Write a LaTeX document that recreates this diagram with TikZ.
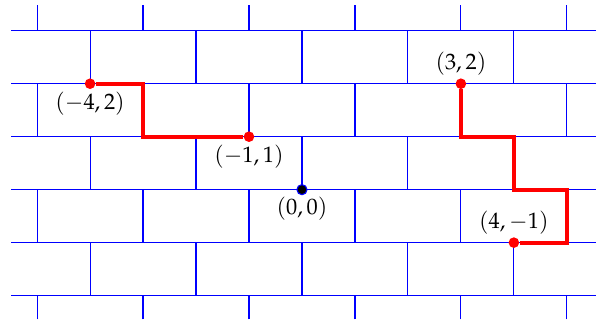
\documentclass[tikz,border=0pt]{standalone}
\usepackage{mathpazo}
\usetikzlibrary{positioning}

\begin{document}
\begin{tikzpicture}[
    wall/.style ={blue, line width=0.6pt},
    walk/.style ={red, line width=2.2pt, line join=miter},
    pt/.style   ={circle, fill=red, inner sep=0pt, minimum size=2mm},
    origin/.style={circle, draw=blue, fill=black, line width=0.6pt,
                 inner sep=0pt, minimum size=1.9mm},
    lab/.style  ={font=\large, inner sep=1pt},
]
\useasboundingbox (-5.70,-2.45) rectangle (5.55,3.58);
% mortar lines
\foreach \y in {-2,...,3}
  \draw[wall] (-5.49,\y) -- (5.55,\y);
% brick joints, shifted every other course
\foreach \y in {-3,...,3}{
  \pgfmathsetmacro\ytop{min(\y+1,3.49)}
  \pgfmathsetmacro\ybot{max(\y,-2.45)}
  \pgfmathtruncatemacro\odd{mod(abs(\y),2)}
  \ifnum\odd=1
    \foreach \x in {-5,-3,...,5}
      \draw[wall] (\x,\ybot) -- (\x,\ytop);
  \else
    \foreach \x in {-4,-2,...,4}
      \draw[wall] (\x,\ybot) -- (\x,\ytop);
  \fi
}
\node[pt] (pA) at (-4,2) {};
\node[pt] (pB) at (-1,1) {};
\node[pt] (pC) at (3,2)  {};
\node[pt] (pD) at (4,-1) {};
\node[origin] (o) at (0,0) {};
\node[lab, below=0pt of pA] {$(-4,2)$};
\node[lab, below=0pt of pB] {$(-1,1)$};
\node[lab, below=0pt of o]  {$(0,0)$};
\node[lab, above=0pt of pC] {$(3,2)$};
\node[lab, above=0pt of pD] {$(4,-1)$};
\draw[walk] (pA) -- ++(1,0) |- (pB);
\draw[walk] (pC) -- ++(0,-1) -- ++(1,0) -- ++(0,-1) -- ++(1,0) |- (pD);
\end{tikzpicture}
\end{document}
